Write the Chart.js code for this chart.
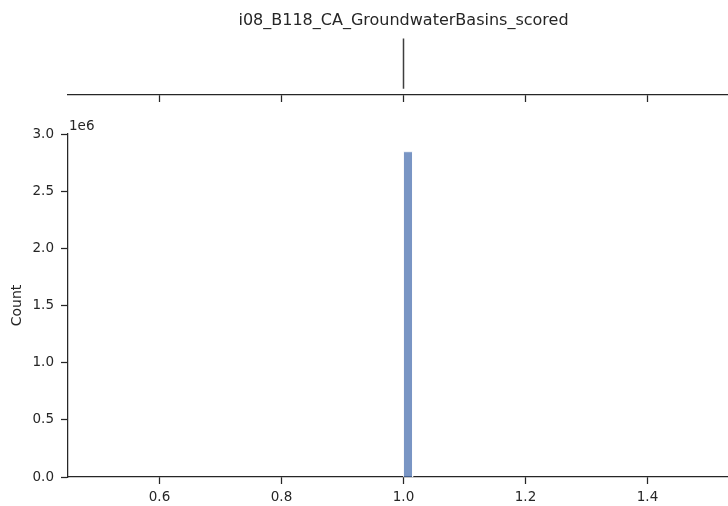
<!DOCTYPE html>
<html>
<head>
<meta charset="utf-8">
<script src="https://cdn.jsdelivr.net/npm/chart.js@4.4.1/dist/chart.umd.min.js"></script>
<style>
    html, body { margin: 0; padding: 0; background: #fff; overflow: hidden; }
    #wrap { position: relative; width: 728px; height: 506px; overflow: hidden; }
    canvas { position: absolute; left: 0; top: 0; }
</style>
</head>
<body>
<div id="wrap">
    <canvas id="histChart" width="739" height="506"></canvas>
    <canvas id="boxChart" width="739" height="102"></canvas>
</div>
<script>
// Dados do gráfico
const titulo = 'i08_B118_CA_GroundwaterBasins_scored';
const binEdges = [1.0, 1.015];
const binCounts = [2845000];
const boxStats = [1.0, 1.0, 1.0, 1.0, 1.0]; // min, q1, mediana, q3, max
const xTicks = [0.6, 0.8, 1.0, 1.2, 1.4];
const yTicks = [0, 500000, 1000000, 1500000, 2000000, 2500000, 3000000];
const xRange = [0.45, 1.55];
const yLabel = 'Count';
const yExpoente = '1e6';

const corTexto = '#262626';
const corBarra = 'rgba(76, 114, 176, 0.75)';
const fonte = 'DejaVu Sans';

// Montar o contorno do histograma a partir das bordas dos bins
const pontosHist = [];
binCounts.forEach((c, i) => {
    pontosHist.push({ x: binEdges[i], y: 0 });
    pontosHist.push({ x: binEdges[i], y: c });
    pontosHist.push({ x: binEdges[i + 1], y: c });
    pontosHist.push({ x: binEdges[i + 1], y: 0 });
});

const eixoX = (extra) => Object.assign({
    type: 'linear',
    min: xRange[0],
    max: xRange[1],
    afterBuildTicks: s => { s.ticks = xTicks.map(v => ({ value: v })); },
    grid: { drawOnChartArea: false, drawTicks: true, tickLength: 7, color: corTexto, tickWidth: 1.25 },
    border: { display: true, color: corTexto, width: 1.25 },
    ticks: {
        color: corTexto,
        font: { family: fonte, size: 13.5 },
        padding: 5,
        maxRotation: 0,
        callback: v => Number(v).toFixed(1)
    }
}, extra);

// Rótulo do expoente (1e6) acima do eixo y
const expoentePlugin = {
    id: 'expoente',
    afterDraw(chart) {
        const { ctx, chartArea } = chart;
        ctx.save();
        ctx.font = '13.5px ' + fonte;
        ctx.fillStyle = corTexto;
        ctx.textAlign = 'left';
        ctx.textBaseline = 'middle';
        ctx.fillText(yExpoente, chartArea.left + 1, chartArea.top - 8);
        ctx.restore();
    }
};

// Histograma principal
new Chart(document.getElementById('histChart'), {
    type: 'scatter',
    data: {
        datasets: [{
            data: pontosHist,
            showLine: true,
            fill: 'origin',
            backgroundColor: corBarra,
            borderColor: '#ffffff',
            borderWidth: 0.75,
            pointRadius: 0,
            tension: 0
        }]
    },
    options: {
        responsive: false,
        animation: false,
        devicePixelRatio: 1,
        layout: { padding: { top: 134, left: 0, right: 0, bottom: 0 } },
        plugins: { legend: { display: false }, tooltip: { enabled: false } },
        scales: {
            x: eixoX({ afterFit: s => { s.height = 29; } }),
            y: {
                type: 'linear',
                min: yTicks[0],
                max: yTicks[yTicks.length - 1],
                afterBuildTicks: s => { s.ticks = yTicks.map(v => ({ value: v })); },
                afterFit: s => { s.width = 68; },
                grid: { drawOnChartArea: false, drawTicks: true, tickLength: 7, color: corTexto, tickWidth: 1.25 },
                border: { display: true, color: corTexto, width: 1.25 },
                ticks: {
                    color: corTexto,
                    font: { family: fonte, size: 13.5 },
                    padding: 7,
                    callback: v => (v / 1e6).toFixed(1)
                },
                title: {
                    display: true,
                    text: yLabel,
                    color: corTexto,
                    font: { family: fonte, size: 14 },
                    padding: { top: 9, bottom: 0 }
                }
            }
        }
    },
    plugins: [expoentePlugin]
});

// Boxplot marginal no topo
new Chart(document.getElementById('boxChart'), {
    type: 'scatter',
    data: {
        datasets: [{
            data: [{ x: boxStats[2], y: -0.4 }, { x: boxStats[2], y: 0.4 }],
            showLine: true,
            borderColor: '#3f3f3f',
            borderWidth: 1.5,
            pointRadius: 0
        }]
    },
    options: {
        responsive: false,
        animation: false,
        devicePixelRatio: 1,
        layout: { padding: { top: 0, left: 68, right: 0, bottom: 0 } },
        plugins: {
            legend: { display: false },
            tooltip: { enabled: false },
            title: {
                display: true,
                text: titulo,
                color: corTexto,
                font: { family: fonte, size: 16, weight: 'normal' },
                padding: { top: 11, bottom: 2 }
            }
        },
        scales: {
            x: eixoX({
                afterFit: s => { s.height = 7; },
                ticks: { display: false }
            }),
            y: { display: false, min: -0.5, max: 0.5 }
        }
    }
});
</script>
</body>
</html>
